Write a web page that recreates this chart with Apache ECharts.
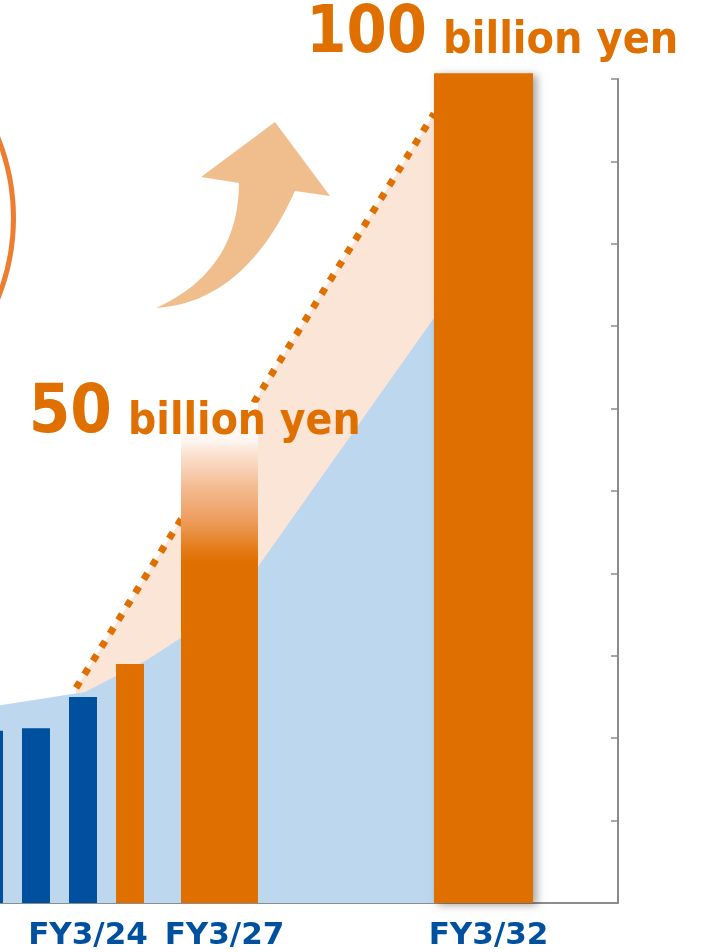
<!DOCTYPE html>
<html>
<head>
<meta charset="utf-8">
<script src="https://cdn.jsdelivr.net/npm/echarts@6/dist/echarts.min.js"></script>
<style>
html,body{margin:0;padding:0;background:#fff;}
#chart{width:707px;height:952px;}
</style>
</head>
<body>
<div id="chart"></div>
<script>
// ---------- DATA ----------
const categories = ['FY3/22', 'FY3/23', 'FY3/24', 'FY3/25', 'FY3/27', 'FY3/32'];
const axisLabels = ['', '', 'FY3/24', '', 'FY3/27', 'FY3/32'];
const barKinds   = ['actual', 'actual', 'actual', 'plan', 'target27', 'target32'];
const xPos       = [-0.231, 0.757, 1.746, 2.735, 4.617, 10.171];
const salesValues = [20.9, 21.2, 25.0, 29.0, 60.7, 100.7];
const targetNumbers = ['', '', '', '', '50', '100'];
const targetUnit = 'billion yen';
// light blue area (base business) boundary: [x, value]
const baseAreaX = [-0.32, 0, 1.788, 3.092, 3.807, 5.427, 9.129, 10.171];
const baseAreaY = [23.9, 24.0, 25.6, 29.5, 32.2, 40.8, 71.0, 79.5];
// growth path (dotted line) : [x, value]
const growthX = [1.599, 9.13];
const growthY = [26.1, 95.8];
const yTicks = {min: 0, max: 100, interval: 10};
const xRange = {min: 0, max: 13};

// ---------- STYLE ----------
const BLUE = '#0050A0', ORANGE = '#DF7000', LIGHTBLUE = '#BDD7EE', PINK = '#FBE5D6';
const FONT = 'DejaVu Sans';
const barWidthUnits = {actual: 0.589, plan: 0.589, target27: 1.62, target32: 2.083};
const barFill = {
  actual: BLUE,
  plan: ORANGE,
  target27: {
    type: 'linear', x: 0, y: 0, x2: 0, y2: 1,
    colorStops: [
      {offset: 0, color: '#ffffff'},
      {offset: 0.076, color: '#fef6f0'},
      {offset: 0.10, color: '#fbe3d3'},
      {offset: 0.168, color: '#f3bc93'},
      {offset: 0.234, color: '#ee9d5e'},
      {offset: 0.30, color: '#e27810'},
      {offset: 0.32, color: ORANGE},
      {offset: 1, color: ORANGE}
    ]
  },
  target32: ORANGE
};
// label anchor offsets relative to bar center / top (px)
const targetLabelStyle = {
  target27: {dx: -99.5, baselineDy: 35, numSize: 68, unitSize: 45, scaleX: 0.88},
  target32: {dx: -48.5, baselineDy: -16, numSize: 65, unitSize: 45, scaleX: 0.89}
};
const axisLabelStyle = {size: 31, dx: 5, baselineDy: 44};

// decorative arrow outline (quadratic curves sampled)
function quad(p0, c, p1, n) {
  const pts = [];
  for (let k = 0; k <= n; k++) {
    const t = k / n, u = 1 - t;
    pts.push([u * u * p0[0] + 2 * u * t * c[0] + t * t * p1[0],
              u * u * p0[1] + 2 * u * t * c[1] + t * t * p1[1]]);
  }
  return pts;
}
const arrowPts = [].concat(
  quad([156, 308], [238.5, 270.5], [239, 183], 24),
  [[201, 177], [275, 122], [330, 196]],
  quad([295, 191], [244.5, 302.5], [156, 308], 24)
);

const chart = echarts.init(document.getElementById('chart'), null, {renderer: 'canvas'});

function renderBar(params, api) {
  const i = params.dataIndex;
  const kind = barKinds[i];
  const x = api.value(0), v = api.value(1);
  const w = barWidthUnits[kind];
  const pTop = api.coord([x - w / 2, v]);
  const pBot = api.coord([x + w / 2, 0]);
  const cx = (pTop[0] + pBot[0]) / 2;
  const children = [];
  const rect = {
    type: 'rect',
    shape: {x: pTop[0], y: pTop[1], width: pBot[0] - pTop[0], height: pBot[1] - pTop[1]},
    style: {fill: barFill[kind]},
    z2: 1
  };
  if (kind === 'target32') {
    rect.style.shadowColor = 'rgba(0,0,0,0.35)';
    rect.style.shadowBlur = 8;
    rect.style.shadowOffsetX = 4;
    rect.style.shadowOffsetY = 2;
  }
  children.push(rect);
  if (axisLabels[i]) {
    const s = axisLabelStyle.size;
    children.push({
      type: 'text', x: cx + axisLabelStyle.dx, y: pBot[1] + axisLabelStyle.baselineDy - 0.346 * s,
      style: {text: axisLabels[i], fill: BLUE, font: 'bold ' + s + 'px "' + FONT + '"',
              align: 'center', verticalAlign: 'middle', lineHeight: s},
      z2: 5
    });
  }
  if (targetNumbers[i]) {
    const ls = targetLabelStyle[kind];
    const ax = cx + ls.dx;
    const base = pTop[1] + ls.baselineDy;
    children.push({
      type: 'text', x: ax - 8, y: base - 0.346 * ls.numSize, scaleX: ls.scaleX,
      style: {text: targetNumbers[i], fill: ORANGE, font: 'bold ' + ls.numSize + 'px "' + FONT + '"',
              align: 'right', verticalAlign: 'middle', lineHeight: ls.numSize},
      z2: 5
    });
    children.push({
      type: 'text', x: ax + 8, y: base - 0.346 * ls.unitSize, scaleX: ls.scaleX,
      style: {text: targetUnit, fill: ORANGE, font: 'bold ' + ls.unitSize + 'px "' + FONT + '"',
              align: 'left', verticalAlign: 'middle', lineHeight: ls.unitSize},
      z2: 5
    });
  }
  return {type: 'group', children: children};
}

const option = {
  animation: false,
  backgroundColor: '#ffffff',
  grid: {left: 0, right: 89, top: 79, bottom: 49, containLabel: false},
  xAxis: {
    type: 'value', min: xRange.min, max: xRange.max,
    axisLine: {show: true, onZero: false, lineStyle: {color: '#8c8c8c', width: 2}},
    axisTick: {show: false}, axisLabel: {show: false}, splitLine: {show: false}
  },
  yAxis: {
    type: 'value', position: 'right', min: yTicks.min, max: yTicks.max, interval: yTicks.interval,
    axisLine: {show: true, onZero: false, lineStyle: {color: '#8c8c8c', width: 2}},
    axisTick: {show: true, inside: true, length: 7, lineStyle: {color: '#8c8c8c', width: 1.5}},
    axisLabel: {show: false}, splitLine: {show: false}
  },
  graphic: [
    {
      type: 'circle', shape: {cx: -201.5, cy: 218, r: 215},
      style: {fill: 'none', stroke: '#ED7D31', lineWidth: 5}, z: 1
    },
    {
      type: 'polygon', shape: {points: arrowPts},
      style: {fill: '#F0BE8C'}, z: 1
    }
  ],
  series: [
    {
      type: 'line', z: 1,
      data: growthX.map((x, k) => [x, growthY[k]]),
      symbol: 'none', clip: true,
      lineStyle: {color: ORANGE, width: 7, type: [7, 9], cap: 'butt'},
      areaStyle: {color: PINK, opacity: 1}
    },
    {
      type: 'line', z: 2,
      data: baseAreaX.map((x, k) => [x, baseAreaY[k]]),
      symbol: 'none',
      lineStyle: {width: 0},
      areaStyle: {color: LIGHTBLUE, opacity: 1}
    },
    {
      type: 'custom', z: 4, clip: false,
      renderItem: renderBar,
      data: xPos.map((x, k) => [x, salesValues[k], categories[k]])
    }
  ]
};
chart.setOption(option);
</script>
</body>
</html>
